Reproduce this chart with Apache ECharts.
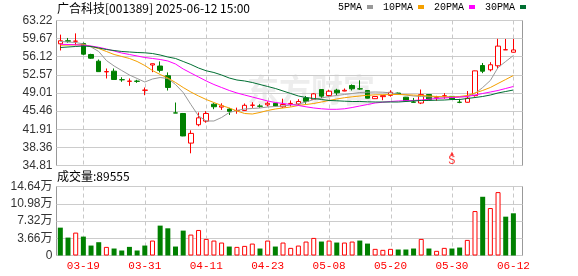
<!DOCTYPE html>
<html><head><meta charset="utf-8">
<script src="https://cdn.jsdelivr.net/npm/echarts@6/dist/echarts.min.js"></script>
<style>html,body{margin:0;padding:0;background:#fff}#c{width:578px;height:276px}</style>
</head><body><div id="c"></div>
<script>
const stockTitle = '广合科技[001389] 2025-06-12 15:00';
const dates = ['03-14','03-17','03-18','03-19','03-20','03-21','03-24','03-25','03-26','03-27','03-28','03-31',
'04-01','04-02','04-03','04-07','04-08','04-09','04-10','04-11','04-14','04-15','04-16','04-17','04-18','04-21','04-22','04-23','04-24','04-25','04-28','04-29','04-30',
'05-06','05-07','05-08','05-09','05-12','05-13','05-14','05-15','05-16','05-19','05-20','05-21','05-22','05-23','05-26','05-27','05-28','05-29','05-30',
'06-03','06-04','06-05','06-06','06-09','06-10','06-11','06-12'];
const opens = [58.65,59.25,59.16,58.7,56.56,55.25,53.15,53.29,51.63,51.3,
51.35,49.55,54.5,54.3,52.4,45.12,45.0,39.2,42.8,43.5,
46.82,46.25,45.87,45.57,45.6,46.6,46.46,46.7,47.0,46.3,
46.93,46.85,48.05,47.75,49.7,48.52,49.57,49.4,50.49,49.84,
49.5,47.9,48.3,48.55,49.0,48.2,47.25,47.05,48.72,48.1,
48.43,48.35,47.22,47.2,48.5,54.4,53.56,54.35,57.47,57.0];
const closes = [59.25,59.15,59.18,56.62,55.83,53.2,53.22,51.66,51.6,51.35,
51.3,49.58,54.75,53.45,50.1,45.09,40.6,41.1,44.15,45.0,
46.32,46.5,45.42,45.6,46.6,46.65,46.42,47.0,46.45,46.75,
46.98,47.35,47.38,48.85,48.4,49.37,49.05,49.55,49.84,49.8,
48.0,48.33,48.5,49.15,48.8,47.5,47.2,48.7,47.75,48.15,
48.47,47.85,47.18,48.0,53.35,53.28,54.55,58.2,57.5,57.45];
const lows = [57.35,58.85,58.35,56.42,55.7,53.2,51.86,51.66,51.21,50.42,
51.0,48.58,53.1,53.05,49.5,45.09,40.55,37.2,42.5,43.2,
45.84,45.7,44.7,44.95,45.5,46.1,46.1,46.37,46.4,46.1,
46.37,46.6,46.9,47.7,48.0,48.2,48.52,49.35,49.5,49.64,
47.95,47.85,47.6,48.3,48.7,47.3,47.15,46.85,47.7,47.49,
47.88,47.7,47.02,47.15,48.3,52.9,53.25,53.8,57.45,56.95];
const highs = [60.45,59.8,60.7,58.9,56.7,55.58,53.82,53.82,52.11,51.86,
51.6,50.09,54.8,55.2,53.05,47.15,45.1,41.7,45.2,45.45,
47.02,47.0,46.1,46.15,46.96,47.2,46.82,47.35,47.05,47.9,
47.55,47.8,48.42,49.0,49.75,49.65,49.84,49.9,50.7,51.5,
49.6,48.4,48.52,49.55,49.1,48.25,48.05,49.7,48.75,48.46,
48.98,48.4,47.88,49.4,53.4,54.9,55.05,59.63,59.6,59.6];
const prevCloseBefore = 59.6;
const volumes = [59100,38000,48600,40100,21100,28200,18300,14800,10600,18300,
10600,21100,31700,63400,57700,19000,52800,44400,54200,35200,
31700,27500,19000,18300,20400,25300,14800,31700,19000,27500,
16200,21100,29600,37300,29600,31700,27500,27500,29600,31700,
25300,14100,12000,14100,12700,12700,14800,35200,14800,9900,
16200,14800,16900,33100,94300,124600,100700,134500,82400,89555];
const ma5 = [59.11,59.01,58.91,58.62,58.03,57.15,55.38,54.31,53.42,52.54,
51.86,51.17,51.76,52.05,51.86,50.68,49.11,46.76,44.51,43.53,
43.53,44.22,45.20,45.59,45.88,45.98,46.08,46.27,46.37,46.47,
46.66,46.86,47.25,47.74,48.04,48.33,48.53,48.72,48.92,49.11,
49.17,49.21,49.17,49.05,48.82,48.62,48.43,48.33,48.27,48.23,
48.23,48.23,48.23,48.33,48.92,50.09,51.47,54.01,55.19,56.36];
const ma10 = [58.38,58.40,58.46,58.48,58.13,57.73,57.15,56.56,56.17,55.78,
55.19,54.40,53.42,52.64,51.95,51.07,50.09,49.21,48.43,47.74,
47.15,46.57,46.08,45.49,45.00,44.90,45.20,45.59,45.88,46.08,
46.27,46.57,46.76,46.96,47.25,47.55,47.84,48.09,48.27,48.43,
48.56,48.66,48.68,48.72,48.72,48.68,48.62,48.53,48.43,48.33,
48.27,48.23,48.33,48.53,49.02,49.51,50.09,50.88,51.66,52.44];
const ma20 = [58.56,58.52,58.46,58.36,58.22,57.97,57.64,57.24,56.85,56.56,
56.27,55.97,55.78,55.58,55.29,54.70,53.72,52.93,52.15,51.37,
50.68,50.09,49.51,49.02,48.62,48.23,47.84,47.45,47.15,46.96,
46.76,46.57,46.31,46.08,45.92,45.82,45.82,45.92,46.17,46.47,
46.76,47.06,47.21,47.35,47.45,47.51,47.55,47.64,47.80,47.94,
48.04,48.13,48.23,48.33,48.62,48.92,49.21,49.51,49.90,50.29];
const ma30 = [57.93,58.03,58.13,58.22,58.13,57.83,57.54,57.34,57.15,57.05,
56.95,56.89,56.75,56.46,56.07,55.78,55.19,54.60,53.91,53.37,
53.03,52.54,51.95,51.56,51.37,51.07,50.68,50.29,49.90,49.41,
48.92,48.43,48.13,47.94,47.74,47.55,47.49,47.41,47.35,47.35,
47.29,47.25,47.25,47.25,47.25,47.35,47.45,47.55,47.55,47.61,
47.64,47.74,47.74,47.94,48.13,48.33,48.62,49.02,49.31,49.60];
const maNames = ['5PMA','10PMA','20PMA','30PMA'];
const priceTicks = [34.81,38.36,41.91,45.46,49.01,52.57,56.12,59.67,63.22];
const volumeTicks = [0,36600,73200,109800,146400];
const volumeTickLabels = ['0','3.66万','7.32万','10.98万','14.64万'];
const labelDates = ['03-19','03-31','04-11','04-23','05-08','05-20','05-30','06-12'];
const signalDates = ['05-30'];
const signalTexts = ['S'];
const watermark = '东方财富';

const RED = '#ff0000', GREEN = '#008000';
const maColors = ['#999999','#f5a000','#ff00ff','#006f32'];
const pMin = priceTicks[0], pMax = priceTicks[priceTicks.length-1];
const vMax = volumeTicks[volumeTicks.length-1];

const candleData = dates.map((d,i)=>[opens[i],closes[i],lows[i],highs[i]]);
const volData = volumes.map((v,i)=>{
  const prev = i===0 ? prevCloseBefore : closes[i-1];
  const up = closes[i] >= prev;
  return {value:v, itemStyle: up ? {color:'#fff',borderColor:RED,borderWidth:1} : {color:GREEN,borderColor:GREEN,borderWidth:0}};
});

const L = 56.5, W = 466;           // frame
const BAND = 7.679;                // category band
const CL = 56.49, CW = BAND*dates.length;
const T1 = 20.5, H1 = 145, T2 = 186.5, H2 = 69;
const lblFont = 'Liberation Sans, Noto Sans CJK SC, sans-serif';
const isLabelDate = (i,v)=>labelDates.indexOf(v)>=0;
const watermarkEl = {type:'text',id:'wm',left:247,top:74,silent:true,z:0,style:{text:watermark,fontSize:32,fontWeight:'bold',fontFamily:'Noto Sans CJK SC',fill:'#ededed'}};

const chart = echarts.init(document.getElementById('c'), null, {renderer:'canvas'});
chart.setOption({
  animation:false,
  backgroundColor:'#fff',
  title:[
    {text:stockTitle,left:57,top:2,padding:0,textStyle:{fontFamily:'Noto Sans CJK SC',fontSize:12,fontWeight:'normal',color:'#000'}},
    {text:'成交量:'+volumes[volumes.length-1],left:57,top:170,padding:0,textStyle:{fontFamily:'Noto Sans CJK SC',fontSize:12,fontWeight:'normal',color:'#000'}}
  ],
  legend:{data:maNames,left:338,top:2,padding:0,align:'right',icon:'rect',itemWidth:6,itemHeight:4,itemGap:10,selectedMode:false,
    textStyle:{fontFamily:'Liberation Mono',fontSize:10,color:'#000',padding:[0,0,0,-2]}},
  graphic:[watermarkEl],
  grid:[
    {left:L,top:T1,width:W,height:H1,show:true,borderColor:'#999',borderWidth:1,backgroundColor:'rgba(0,0,0,0)'},
    {left:CL,top:T1,width:CW,height:H1},
    {left:L,top:T2,width:W,height:H2,show:true,borderColor:'#999',borderWidth:1,backgroundColor:'rgba(0,0,0,0)'},
    {left:CL,top:T2,width:CW,height:H2}
  ],
  xAxis:[
    {type:'value',gridIndex:0,min:0,max:1,show:false},
    {type:'category',gridIndex:1,data:dates,boundaryGap:true,axisLine:{show:false},axisTick:{show:false},axisLabel:{show:false},splitLine:{show:false}},
    {type:'value',gridIndex:2,min:0,max:1,show:false},
    {type:'category',gridIndex:3,data:dates,boundaryGap:true,axisLine:{show:false},axisTick:{show:false},splitLine:{show:false},
      axisLabel:{interval:isLabelDate,color:RED,fontFamily:'Liberation Mono',fontSize:11,margin:5}}
  ],
  yAxis:[
    {type:'value',gridIndex:0,min:pMin,max:pMax,axisLine:{show:false},
      axisTick:{show:false,customValues:priceTicks},
      axisLabel:{customValues:priceTicks,formatter:v=>v.toFixed(2),color:'#333',fontFamily:lblFont,fontSize:12,margin:4},
      splitLine:{show:true,lineStyle:{color:'#cccccc',width:1}}},
    {type:'value',gridIndex:1,min:pMin,max:pMax,show:false,splitLine:{show:false}},
    {type:'value',gridIndex:2,min:0,max:vMax,interval:volumeTicks[1],axisLine:{show:false},axisTick:{show:false},
      axisLabel:{formatter:v=>volumeTickLabels[volumeTicks.indexOf(v)],color:'#333',fontFamily:lblFont,fontSize:12,margin:4},
      splitLine:{show:true,lineStyle:{color:'#cccccc',width:1}}},
    {type:'value',gridIndex:3,min:0,max:vMax,show:false,splitLine:{show:false}}
  ],
  series:[
    {name:'K',type:'candlestick',xAxisIndex:1,yAxisIndex:1,data:candleData,barWidth:5,z:2,
      itemStyle:{color:'#fff',color0:GREEN,borderColor:RED,borderColor0:GREEN,borderWidth:1}},
    ...[ma5,ma10,ma20,ma30].map((arr,k)=>({name:maNames[k],type:'line',xAxisIndex:1,yAxisIndex:1,data:arr,z:3,
      symbol:'none',showSymbol:false,smooth:false,color:maColors[k],lineStyle:{width:1,color:maColors[k]},itemStyle:{color:maColors[k]}})),
    {type:'bar',xAxisIndex:3,yAxisIndex:3,data:volData,barWidth:5,z:2},
    {type:'scatter',xAxisIndex:1,yAxisIndex:1,symbolSize:0,z:4,
      data:signalDates.map((d,i)=>({value:[d,pMin],name:signalTexts[i]})),
      label:{show:true,position:'top',distance:0,formatter:p=>'{a|▲}\n{b|'+p.name+'}',
        rich:{a:{fontSize:6,lineHeight:5,color:RED,align:'center'},b:{fontSize:12,lineHeight:10,color:RED,fontFamily:'Liberation Mono',align:'center'}}}}
  ]
});

// dashed vertical guides at the labelled dates, positioned through the chart's own axes
const guides = [];
labelDates.forEach((d,k)=>{
  const x = Math.round(chart.convertToPixel({xAxisIndex:1}, d)) + 0.5;
  const spans = [
    [chart.convertToPixel({yAxisIndex:1}, pMax), chart.convertToPixel({yAxisIndex:1}, pMin)],
    [chart.convertToPixel({yAxisIndex:3}, vMax), chart.convertToPixel({yAxisIndex:3}, 0)]
  ];
  spans.forEach((s,j)=>{
    if (isFinite(x) && isFinite(s[0]) && isFinite(s[1])) {
      guides.push({type:'line',id:'g'+k+'_'+j,silent:true,z:1,
        shape:{x1:x,y1:s[0],x2:x,y2:s[1]},
        style:{stroke:'#c8c8c8',lineWidth:1,lineDash:[4,3]}});
    }
  });
});
chart.setOption({graphic:[watermarkEl].concat(guides)});
</script></body></html>
